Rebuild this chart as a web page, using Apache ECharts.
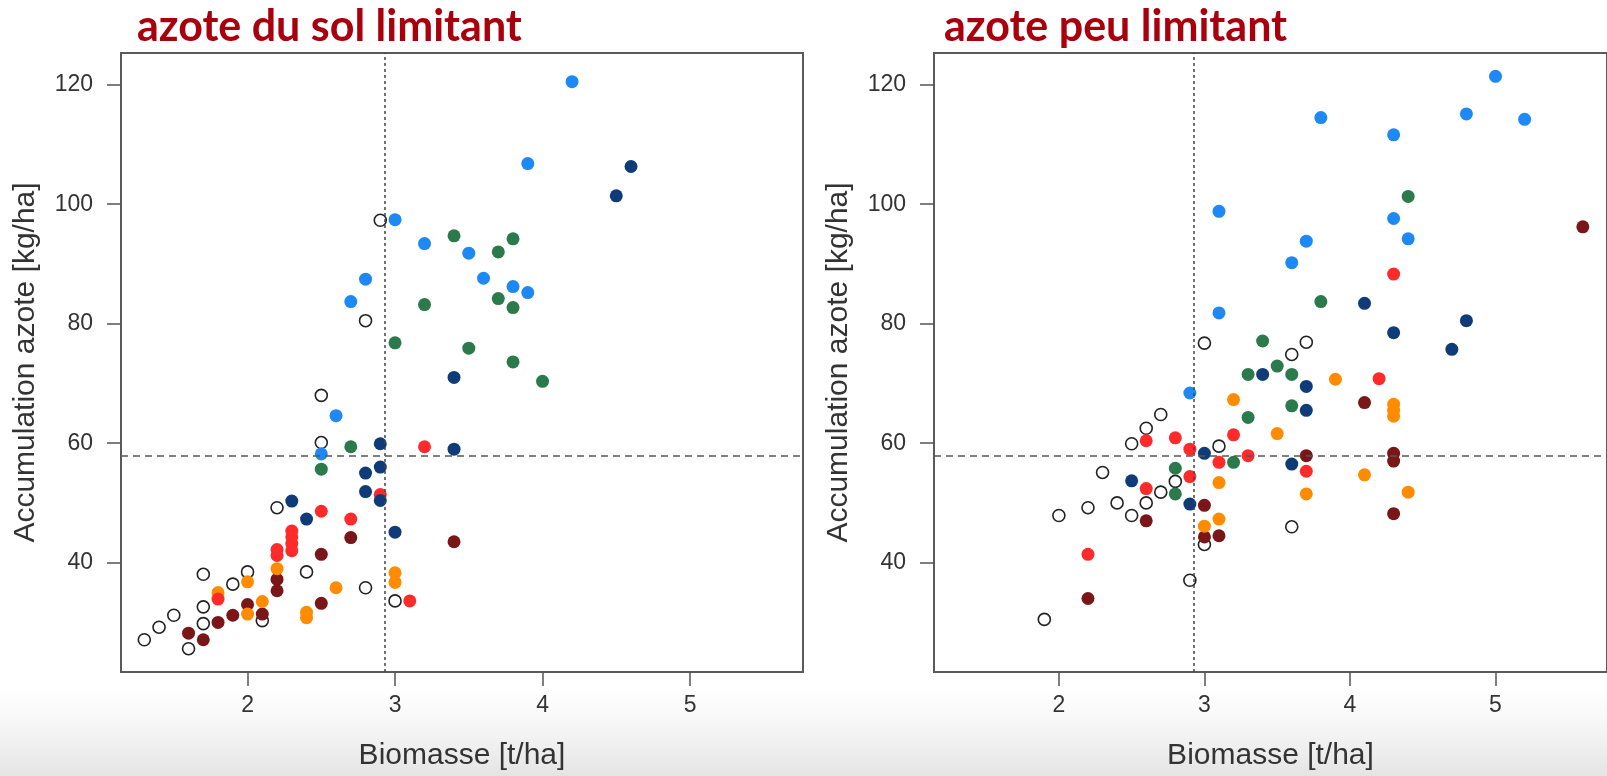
<!DOCTYPE html>
<html>
<head>
<meta charset="utf-8">
<script src="https://cdn.jsdelivr.net/npm/echarts@6/dist/echarts.min.js"></script>
<style>
html,body{margin:0;padding:0;background:#fff;}
#chart{width:1607px;height:776px;}
</style>
</head>
<body>
<div id="chart"></div>
<script>
// ---------- data ----------
const panelTitles = ['azote du sol limitant', 'azote peu limitant'];
const xAxisName = 'Biomasse [t/ha]';
const yAxisName = 'Accumulation azote [kg/ha]';
const xTicks = [2, 3, 4, 5];
const yTicks = [40, 60, 80, 100, 120];
const refBiomasse = 2.93;
const refAzote = 57.9;

// panel 1 : azote du sol limitant  [biomasse, azote]
const solOpen = [[2.9,97.3],[2.8,80.5],[2.5,68.0],[2.5,60.1],[2.2,49.2],[2.0,38.45],[2.4,38.45],[1.7,38.05],[1.9,36.4],[2.8,35.8],[3.0,33.6],[2.1,30.3],[1.7,32.6],[1.7,29.8],[1.5,31.2],[1.4,29.2],[1.3,27.1],[1.6,25.6]];
const solDarkRed = [[3.4,43.5],[2.7,44.2],[2.5,41.4],[2.2,37.2],[2.2,35.3],[2.0,33.0],[2.1,31.4],[2.5,33.2],[1.9,31.2],[1.8,30.0],[1.6,28.2],[1.7,27.1]];
const solOrange = [[2.2,39.0],[2.0,36.8],[1.8,35.0],[2.6,35.8],[3.0,38.3],[3.0,36.7],[2.1,33.5],[2.0,31.4],[2.4,31.7],[2.4,30.8]];
const solRed = [[3.2,59.4],[2.9,51.4],[2.5,48.6],[2.7,47.3],[2.3,45.3],[2.3,44.3],[2.3,43.2],[2.3,42.0],[2.2,42.2],[2.2,41.2],[1.8,33.9],[3.1,33.6]];
const solGreen = [[3.4,94.7],[3.8,94.2],[3.7,92.0],[3.7,84.2],[3.8,82.7],[3.2,83.2],[3.0,76.8],[3.5,75.9],[3.8,73.6],[4.0,70.35],[2.7,59.4],[2.5,55.65]];
const solNavy = [[4.6,106.3],[4.5,101.4],[3.4,71.0],[2.9,59.9],[3.4,59.0],[2.9,56.0],[2.8,55.0],[2.8,51.9],[2.9,50.4],[2.3,50.3],[2.4,47.3],[3.0,45.1]];
const solBlue = [[4.2,120.5],[3.9,106.8],[3.0,97.4],[3.2,93.4],[3.5,91.8],[2.8,87.45],[3.6,87.6],[3.8,86.2],[3.9,85.2],[2.7,83.7],[2.6,64.6],[2.5,58.2]];

// panel 2 : azote peu limitant
const peuOpen = [[3.0,76.75],[3.7,76.9],[3.6,74.85],[2.7,64.8],[2.6,62.5],[2.5,59.9],[3.1,59.5],[2.3,55.1],[2.8,53.6],[2.7,51.8],[2.4,50.0],[2.6,50.0],[2.2,49.2],[2.0,47.9],[2.5,47.9],[3.0,43.05],[2.9,37.05],[1.9,30.5],[3.6,46.0]];
const peuDarkRed = [[5.6,96.2],[4.1,66.8],[3.7,57.9],[4.3,58.3],[4.3,57.0],[3.0,49.6],[2.6,47.0],[3.0,44.3],[3.1,44.5],[4.3,48.2],[2.2,34.0]];
const peuOrange = [[3.9,70.7],[4.3,66.5],[4.3,65.5],[4.3,64.5],[3.2,67.3],[3.5,61.6],[4.1,54.7],[3.1,53.4],[3.7,51.5],[4.4,51.8],[3.1,47.3],[3.0,46.1]];
const peuRed = [[4.3,88.3],[4.2,70.8],[3.2,61.4],[2.8,60.9],[2.6,60.4],[2.9,59.0],[3.3,57.9],[3.1,56.8],[3.7,55.3],[2.9,54.4],[2.6,52.4],[2.2,41.4]];
const peuGreen = [[4.4,101.3],[3.8,83.7],[3.4,77.1],[3.5,72.9],[3.3,71.5],[3.6,71.5],[3.6,66.25],[3.3,64.3],[3.2,56.8],[2.8,55.8],[2.8,51.5]];
const peuNavy = [[4.1,83.4],[4.3,78.5],[4.8,80.5],[4.7,75.7],[3.4,71.5],[3.7,69.5],[3.7,65.5],[3.0,58.3],[3.6,56.5],[2.5,53.7],[2.9,49.8]];
const peuBlue = [[5.0,121.4],[3.8,114.5],[4.8,115.1],[5.2,114.2],[4.3,111.6],[3.1,98.8],[4.3,97.6],[4.4,94.2],[3.7,93.8],[3.6,90.2],[3.1,81.8],[2.9,68.4]];

// ---------- styles ----------
const groupStyles = [
  {name:'ouvert', fill:'#ffffff', border:'#222222', bw:1.6, size:12},
  {name:'rouge foncé', fill:'#7a1518', border:'#7a1518', bw:0, size:13},
  {name:'orange', fill:'#ff8c00', border:'#ff8c00', bw:0, size:13},
  {name:'rouge', fill:'#ff2b2b', border:'#ff2b2b', bw:0, size:13},
  {name:'vert', fill:'#2b7a4b', border:'#2b7a4b', bw:0, size:13},
  {name:'bleu foncé', fill:'#0f3c78', border:'#0f3c78', bw:0, size:13},
  {name:'bleu', fill:'#1e88f5', border:'#1e88f5', bw:0, size:13}
];
const panels = [
  [solOpen, solDarkRed, solOrange, solRed, solGreen, solNavy, solBlue],
  [peuOpen, peuDarkRed, peuOrange, peuRed, peuGreen, peuNavy, peuBlue]
];

const xMin = 1.142, xMax = 5.766, yMin = 21.7, yMax = 125.3;
const labelFont = '"Liberation Sans", Arial, sans-serif';

const grids = [
  {left:121, top:53, width:682, height:622},
  {left:934, top:53, width:682, height:622}
];

const xAxes = grids.map((g, i) => ({
  type:'value', gridIndex:i, min:xMin, max:xMax,
  name:xAxisName, nameLocation:'middle', nameGap:69,
  nameTextStyle:{fontFamily:labelFont, fontSize:30, color:'#333'},
  axisLine:{show:false},
  axisTick:{show:true, customValues:xTicks, length:14, lineStyle:{color:'#555', width:1.5}},
  axisLabel:{show:true, customValues:xTicks, margin:22, fontFamily:labelFont, fontSize:23, color:'#333'},
  splitLine:{show:false}
}));
const yAxes = grids.map((g, i) => ({
  type:'value', gridIndex:i, min:yMin, max:yMax,
  name:yAxisName, nameLocation:'middle', nameGap:80,
  nameTextStyle:{fontFamily:labelFont, fontSize:30, color:'#333'},
  axisLine:{show:false},
  axisTick:{show:true, customValues:yTicks, length:14, lineStyle:{color:'#555', width:1.5}},
  axisLabel:{show:true, customValues:yTicks, margin:28, fontFamily:labelFont, fontSize:23, color:'#333'},
  splitLine:{show:false}
}));

const series = [];
panels.forEach((groups, p) => {
  // reference dashed lines
  series.push({
    type:'scatter', xAxisIndex:p, yAxisIndex:p, data:[], silent:true,
    markLine:{
      silent:true, symbol:['none','none'], label:{show:false}, animation:false,
      data:[
        {xAxis:refBiomasse, lineStyle:{type:[3,3], color:'#444', width:1.5}},
        {yAxis:refAzote, lineStyle:{type:[7,5], color:'#555', width:1.5}}
      ]
    }
  });
  groups.forEach((d, k) => {
    const s = groupStyles[k];
    series.push({
      type:'scatter', name:s.name, xAxisIndex:p, yAxisIndex:p, data:d,
      symbol:'circle', symbolSize:s.size, animation:false,
      itemStyle:{color:s.fill, borderColor:s.border, borderWidth:s.bw, opacity:1}
    });
  });
});

const chart = echarts.init(document.getElementById('chart'), null, {renderer:'canvas'});
chart.setOption({
  backgroundColor:'#ffffff',
  animation:false,
  title: panelTitles.map((t, i) => ({
    text:t, left: i === 0 ? 132 : 939, top:1,
    textStyle:{fontFamily:'Lato, "Open Sans", sans-serif', fontWeight:'bold', fontSize:43, color:'#a8000c'}
  })),
  graphic:[{
    type:'rect', silent:true, z:-10,
    shape:{x:0, y:690, width:1607, height:86},
    style:{fill:new echarts.graphic.LinearGradient(0,0,0,1,[{offset:0,color:'rgba(236,236,236,0)'},{offset:1,color:'#e4e4e4'}])}
  }],
  grid: grids.map(g => Object.assign({show:true, borderColor:'#5a5a5a', borderWidth:2, backgroundColor:'transparent'}, g)),
  xAxis:xAxes,
  yAxis:yAxes,
  series:series
});
</script>
</body>
</html>
